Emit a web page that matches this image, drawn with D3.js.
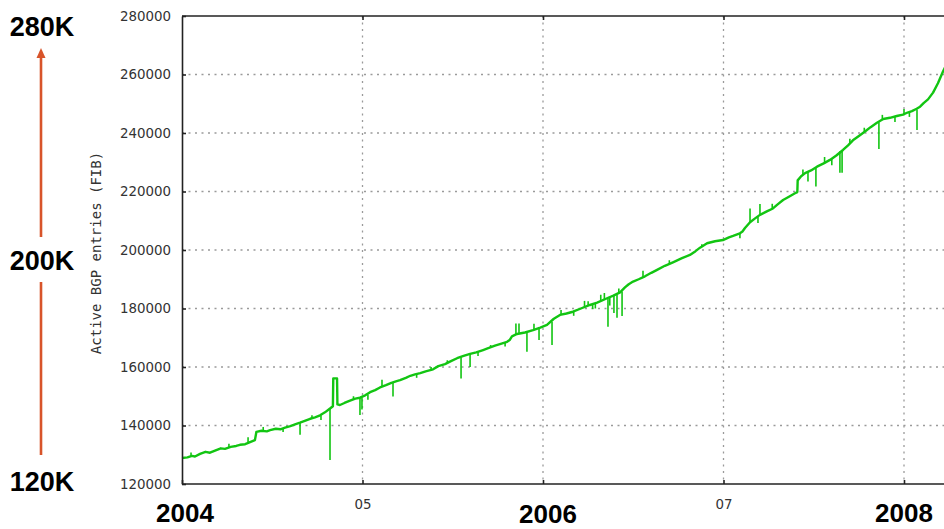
<!DOCTYPE html>
<html>
<head>
<meta charset="utf-8">
<script src="https://cdn.jsdelivr.net/npm/d3@7/dist/d3.min.js"></script>
<style>
  html, body { margin: 0; padding: 0; background: #fff; }
  svg { display: block; }
</style>
</head>
<body>
<svg id="chart" width="944" height="529"></svg>
<script>
// Active BGP FIB entries, 2004 - early 2008 (decimal year, entry count)
const years = [
  2004.000, 2004.030, 2004.055, 2004.072, 2004.100, 2004.130, 2004.155, 2004.190, 2004.215, 2004.238,
  2004.270, 2004.300, 2004.321, 2004.350, 2004.377, 2004.404, 2004.412, 2004.440, 2004.470, 2004.488,
  2004.520, 2004.545, 2004.571, 2004.600, 2004.630, 2004.654, 2004.680, 2004.710, 2004.737, 2004.765,
  2004.792, 2004.820, 2004.836, 2004.838, 2004.859, 2004.861, 2004.875, 2004.900, 2004.931, 2004.960,
  2004.986, 2005.015, 2005.042, 2005.070, 2005.097, 2005.130, 2005.160, 2005.185, 2005.208, 2005.240,
  2005.265, 2005.291, 2005.320, 2005.350, 2005.391, 2005.420, 2005.457, 2005.490, 2005.524, 2005.560,
  2005.596, 2005.630, 2005.668, 2005.700, 2005.734, 2005.770, 2005.801, 2005.815, 2005.828, 2005.856,
  2005.900, 2005.945, 2005.985, 2006.022, 2006.060, 2006.094, 2006.130, 2006.166, 2006.210, 2006.260,
  2006.300, 2006.355, 2006.390, 2006.427, 2006.454, 2006.475, 2006.499, 2006.530, 2006.565, 2006.600,
  2006.632, 2006.675, 2006.720, 2006.770, 2006.814, 2006.845, 2006.870, 2006.909, 2006.953, 2006.997,
  2007.030, 2007.053, 2007.091, 2007.105, 2007.119, 2007.147, 2007.175, 2007.202, 2007.240, 2007.274,
  2007.300, 2007.330, 2007.365, 2007.396, 2007.409, 2007.411, 2007.430, 2007.452, 2007.485, 2007.518,
  2007.555, 2007.590, 2007.625, 2007.662, 2007.690, 2007.717, 2007.750, 2007.784, 2007.815, 2007.850,
  2007.885, 2007.922, 2007.960, 2007.994, 2008.020, 2008.044, 2008.070, 2008.089, 2008.110, 2008.133,
  2008.161, 2008.188, 2008.216, 2008.240
];
const entries = [
  128900, 129100, 129600, 129400, 130300, 131000, 130700, 131600, 132200, 132000,
  132700, 133000, 133400, 133600, 134300, 135000, 137800, 138200, 138000, 138400,
  138900, 138700, 139300, 139800, 140500, 141000, 141600, 142300, 142800, 143500,
  144500, 145800, 146600, 156100, 156100, 147200, 147000, 147700, 148500, 149200,
  149500, 150300, 151400, 152100, 153000, 153800, 154600, 155100, 155500, 156300,
  157000, 157500, 157900, 158500, 159200, 160300, 161000, 162000, 163000, 163800,
  164500, 165000, 165800, 166500, 167300, 168000, 168600, 169200, 170500, 171300,
  171800, 172600, 173500, 174400, 176500, 177800, 178300, 178900, 180000, 181200,
  182000, 183500, 184400, 185500, 187200, 188300, 189200, 190000, 191000, 192200,
  193200, 194600, 195800, 197200, 198300, 199600, 200800, 202300, 203000, 203400,
  204300, 204800, 205700, 206300, 207500, 209500, 210800, 212000, 213200, 214200,
  215600, 217100, 218300, 219400, 219800, 223800, 225200, 226300, 227200, 228500,
  229600, 230800, 232300, 234200, 235800, 237500, 239000, 240500, 242000, 243500,
  244800, 245200, 245800, 246300, 247000, 247500, 248300, 249000, 250300, 251500,
  253800, 257000, 261000, 264000
];

// Short-lived outliers: [decimal year, level before, level reached]
const spikes = [
  [2004.050, 129500, 130800], [2004.260, 132500, 133800], [2004.366, 133800, 136000],
  [2004.450, 138200, 139500], [2004.560, 138800, 137800], [2004.654, 141000, 136800],
  [2004.720, 142400, 143500], [2004.770, 143500, 141900], [2004.820, 145800, 128200],
  [2004.950, 149000, 150000], [2004.986, 149500, 143600], [2004.997, 149600, 145500],
  [2005.030, 150600, 148800], [2005.108, 153200, 155600], [2005.169, 154500, 149900],
  [2005.300, 157600, 156300], [2005.380, 159000, 160000], [2005.470, 161200, 162300],
  [2005.546, 163300, 156100], [2005.596, 164500, 160000], [2005.640, 165100, 163800],
  [2005.710, 166600, 167500], [2005.790, 168400, 167000], [2005.850, 171000, 174900],
  [2005.867, 171300, 174900], [2005.911, 172000, 165200], [2005.950, 172700, 174800],
  [2005.978, 173300, 169200], [2006.050, 175500, 167500], [2006.100, 177900, 179500],
  [2006.170, 179000, 177500], [2006.230, 180500, 182600], [2006.250, 181000, 182500],
  [2006.275, 181500, 179800], [2006.290, 181800, 180000], [2006.320, 182600, 184700],
  [2006.340, 183200, 185300], [2006.360, 183500, 173800], [2006.370, 183900, 181000],
  [2006.393, 184300, 178500], [2006.410, 184800, 176800], [2006.420, 185300, 186800],
  [2006.438, 185800, 177400], [2006.554, 190700, 192900], [2006.700, 195300, 196500],
  [2006.880, 201000, 202000], [2007.091, 205700, 204000], [2007.147, 209500, 214200],
  [2007.191, 211500, 209200], [2007.202, 212000, 215700], [2007.270, 214200, 215800],
  [2007.440, 225600, 227500], [2007.468, 226800, 223400], [2007.512, 228300, 221700],
  [2007.560, 229700, 231800], [2007.600, 231000, 229000], [2007.645, 233800, 226400],
  [2007.657, 234000, 226400], [2007.700, 236300, 238000], [2007.780, 240400, 241800],
  [2007.861, 243700, 234500], [2007.880, 244700, 246200], [2007.950, 245700, 243800],
  [2008.000, 246500, 248200], [2008.030, 247100, 245500], [2008.072, 248000, 241000]
];

const yTicks = [120000, 140000, 160000, 180000, 200000, 220000, 240000, 260000, 280000];
const xTicks = [2004, 2005, 2006, 2007, 2008];
const xTickLabels = ["", "05", "", "07", ""];
const yearLabels = ["2004", "2006", "2008"];
const yearLabelYears = [2004, 2006, 2008];
const scaleLabels = ["280K", "200K", "120K"];
const yAxisTitle = "Active BGP entries (FIB)";

const svg = d3.select("#chart");
const plotLeft = 182, plotTop = 16, plotBottom = 484, pxPerYear = 180.5;

const x = d3.scaleLinear().domain([2004, 2008.5]).range([plotLeft, plotLeft + 4.5 * pxPerYear]);
const y = d3.scaleLinear().domain([120000, 280000]).range([plotBottom, plotTop]);
const xEnd = x(2008.5);

// Dotted grid
const grid = svg.append("g")
  .attr("stroke", "#9a9a9a").attr("stroke-width", 1.3).attr("stroke-dasharray", "2,4.5");
grid.selectAll("line.h").data(yTicks.slice(1, -1)).join("line").attr("class", "h")
  .attr("x1", plotLeft).attr("x2", xEnd)
  .attr("y1", d => y(d)).attr("y2", d => y(d));
grid.selectAll("line.v").data(xTicks.slice(1)).join("line").attr("class", "v")
  .attr("x1", d => x(d)).attr("x2", d => x(d))
  .attr("y1", plotTop).attr("y2", plotBottom);

// Series line and spikes
const line = d3.line().x((d, i) => x(years[i])).y(d => y(d));
svg.append("path")
  .datum(entries)
  .attr("d", line)
  .attr("fill", "none")
  .attr("stroke", "#12c512")
  .attr("stroke-width", 2.4)
  .attr("stroke-linejoin", "round");

svg.append("g").attr("stroke", "#12c512").attr("stroke-width", 1.6)
  .selectAll("line").data(spikes).join("line")
  .attr("x1", d => x(d[0])).attr("x2", d => x(d[0]))
  .attr("y1", d => y(d[1])).attr("y2", d => y(d[2]));

// Axes
const axisFont = "DejaVu Sans, Verdana, sans-serif";
const yAxis = svg.append("g").attr("transform", `translate(${plotLeft},0)`)
  .call(d3.axisLeft(y).tickValues(yTicks).tickFormat(d3.format("d")).tickSize(-4).tickSizeOuter(0).tickPadding(11));
const xAxis = svg.append("g").attr("transform", `translate(0,${plotBottom})`)
  .call(d3.axisBottom(x).tickValues(xTicks).tickFormat((d, i) => xTickLabels[i]).tickSize(-4).tickSizeOuter(0).tickPadding(15));
const topAxis = svg.append("g").attr("transform", `translate(0,${plotTop})`)
  .call(d3.axisTop(x).tickValues(xTicks.slice(1)).tickFormat("").tickSize(-4).tickSizeOuter(0));

[yAxis, xAxis, topAxis].forEach(g => {
  g.select(".domain").attr("stroke", "#222").attr("stroke-width", 1.6);
  g.selectAll(".tick line").attr("stroke", "#222").attr("stroke-width", 1.6);
  g.selectAll("text").attr("font-family", axisFont).attr("font-size", 13.4).attr("fill", "#333");
});
xAxis.select(".domain").attr("d", `M${plotLeft},0H${xEnd}`);
topAxis.select(".domain").attr("d", `M${plotLeft},0H${xEnd}`);

// Axis title
svg.append("text")
  .attr("transform", `translate(101,253) rotate(-90)`)
  .attr("text-anchor", "middle")
  .attr("font-family", "DejaVu Sans Mono, monospace")
  .attr("font-size", 14)
  .attr("fill", "#333")
  .text(yAxisTitle);

// Large year labels under the axis
const bold = "Liberation Sans, Arial, sans-serif";
svg.append("g").selectAll("text").data(yearLabels).join("text")
  .attr("x", (d, i) => x(yearLabelYears[i]) + [3, 5, 0][i])
  .attr("y", (d, i) => [522, 523, 522][i])
  .attr("text-anchor", "middle")
  .attr("font-family", bold).attr("font-weight", "bold").attr("font-size", 26)
  .attr("fill", "#000")
  .text(d => d);

// Scale annotation with arrow on the left
const arrowColor = "#d8542a";
svg.append("g").selectAll("text").data(scaleLabels).join("text")
  .attr("x", 42)
  .attr("y", (d, i) => [36, 270, 491][i])
  .attr("text-anchor", "middle")
  .attr("font-family", bold).attr("font-weight", "bold").attr("font-size", 27)
  .attr("fill", "#000")
  .text(d => d);

svg.append("line").attr("x1", 41).attr("x2", 41).attr("y1", 56).attr("y2", 237)
  .attr("stroke", arrowColor).attr("stroke-width", 2.6);
svg.append("line").attr("x1", 41).attr("x2", 41).attr("y1", 282).attr("y2", 455)
  .attr("stroke", arrowColor).attr("stroke-width", 2.6);
svg.append("path").attr("d", "M41,48L45.5,58L36.5,58Z").attr("fill", arrowColor);
</script>
</body>
</html>
